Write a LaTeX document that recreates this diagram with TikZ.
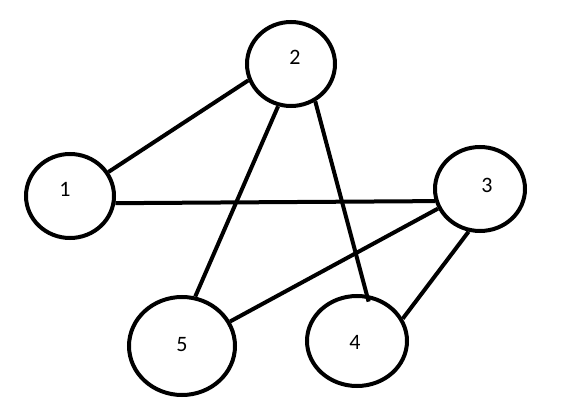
\documentclass[tikz,border=0pt]{standalone}
\usepackage{fontspec}
\setmainfont{Carlito}
\usetikzlibrary{shapes.geometric}
\begin{document}
\begin{tikzpicture}[x=1pt,y=-1pt,
  vertex/.style={draw=black,line width=4pt,ellipse,inner sep=0pt},
  label/.style={font=\fontsize{22}{26}\selectfont,inner sep=0pt},
  edge/.style={line width=4pt}]
\useasboundingbox (0,0) rectangle (568,414);
\node[vertex,minimum width=88pt,minimum height=84pt] (n1) at (70,196) {};
\node[vertex,minimum width=88pt,minimum height=84pt] (n2) at (291,64) {};
\node[vertex,minimum width=90pt,minimum height=84pt] (n3) at (480,189) {};
\node[vertex,minimum width=106pt,minimum height=98pt] (n5) at (182,346) {};
\node[vertex,minimum width=100pt,minimum height=90pt] (n4) at (357,341) {};
\node[label] (t1) at (65,189) {1};
\node[label] (t2) at (295,57) {2};
\node[label] (t3) at (487,185) {3};
\node[label] (t5) at (182,345) {5};
\node[label] (t4) at (355,342) {4};
\draw[edge] (n1.32) -- (n2.201);
\draw[edge] (n1.-9) -- (n3.195);
\draw[edge] (n2.253) -- (n5.75);
\draw[edge,shorten >=-7pt] (n2.303) -- (n4.78);
\draw[edge] (n3.205) -- (n5.27);
\draw[edge] (n3.255) -- (n4.26);
\end{tikzpicture}
\end{document}
